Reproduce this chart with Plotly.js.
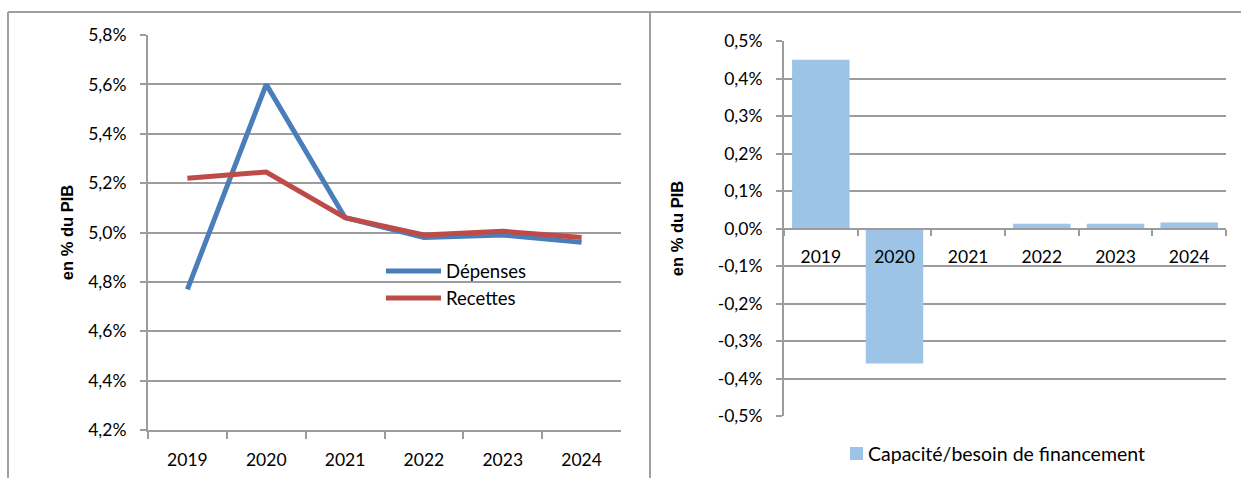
<!DOCTYPE html>
<html><head><meta charset="utf-8">
<script src="https://cdn.plot.ly/plotly-3.0.1.min.js"></script>
<style>html,body{margin:0;padding:0;background:#fff}#c{width:1241px;height:478px}</style>
</head><body><div id="c"></div>
<script>
const years = ['2019','2020','2021','2022','2023','2024'];
const depenses = [4.77, 5.60, 5.06, 4.98, 4.99, 4.96];
const recettes = [5.22, 5.245, 5.06, 4.99, 5.005, 4.98];
const capacite = [0.45, -0.36, 0.0, 0.013, 0.013, 0.016];
const leftTicks = [4.2, 4.4, 4.6, 4.8, 5.0, 5.2, 5.4, 5.6, 5.8];
const rightTicks = [-0.5, -0.4, -0.3, -0.2, -0.1, 0.0, 0.1, 0.2, 0.3, 0.4, 0.5];
const seriesNames = ['Dépenses', 'Recettes'];
const seriesColors = ['#4a7ebb', '#be4b48'];
const barName = 'Capacité/besoin de financement';
const barColor = '#9dc3e6';
const axisTitle = 'en % du PIB';

const W = 1241, H = 478;
const px = v => v / W, py = v => 1 - v / H;
const font = 'Lato, "Open Sans", sans-serif';
const grid = '#9c9c9c';
const pct = v => v.toFixed(1).replace('.', ',') + '%';

const traces = [
  {x: years, y: depenses, type: 'scatter', mode: 'lines', name: seriesNames[0], showlegend: false,
   line: {color: seriesColors[0], width: 5}, xaxis: 'x', yaxis: 'y'},
  {x: years, y: recettes, type: 'scatter', mode: 'lines', name: seriesNames[1], showlegend: false,
   line: {color: seriesColors[1], width: 5}, xaxis: 'x', yaxis: 'y'},
  {x: years, y: capacite, type: 'bar', name: barName, showlegend: false,
   marker: {color: barColor}, xaxis: 'x2', yaxis: 'y2'}
];

const yDom1 = [py(430), py(35)];
const yDom2 = [py(416), py(41)];
const zeroPos = yDom2[0] + (0 - (-0.5)) / 1.0 * (yDom2[1] - yDom2[0]);

const tickFont = {family: font, size: 17.5, color: '#000'};
const axisY = (standoff) => ({
  showgrid: true, gridcolor: grid, gridwidth: 2, showline: true, linecolor: grid, linewidth: 2,
  ticks: 'outside', ticklen: 6, tickcolor: grid, tickwidth: 2, zeroline: false,
  tickfont: tickFont, ticklabelstandoff: 10,
  title: {text: axisTitle, font: {family: 'Liberation Sans, Arial, sans-serif', size: 16.5, color: '#000', weight: 'bold'}, standoff: standoff}
});

const legendY = [271, 298];
const shapes = [
  {type: 'line', xref: 'paper', yref: 'paper', x0: px(8), x1: 1, y0: py(12), y1: py(12), line: {color: '#a0a0a0', width: 2}},
  {type: 'line', xref: 'paper', yref: 'paper', x0: px(8), x1: px(8), y0: py(12), y1: 0, line: {color: '#a0a0a0', width: 2}},
  {type: 'line', xref: 'paper', yref: 'paper', x0: px(650), x1: px(650), y0: py(12), y1: 0, line: {color: '#a0a0a0', width: 2}}
];
const annotations = [];
seriesNames.forEach((n, i) => {
  shapes.push({type: 'line', xref: 'paper', yref: 'paper', x0: px(386), x1: px(441), y0: py(legendY[i]), y1: py(legendY[i]),
    line: {color: seriesColors[i], width: 5}});
  annotations.push({xref: 'paper', yref: 'paper', x: px(444), y: py(legendY[i]), xanchor: 'left', yanchor: 'middle',
    text: n, showarrow: false, font: {family: font, size: 18.5, color: '#000'}});
});
shapes.push({type: 'rect', xref: 'paper', yref: 'paper', x0: px(850), x1: px(863), y0: py(447), y1: py(460),
  fillcolor: barColor, line: {width: 0}});
annotations.push({xref: 'paper', yref: 'paper', x: px(866), y: py(453), xanchor: 'left', yanchor: 'middle',
  text: barName, showarrow: false, font: {family: font, size: 19.5, color: '#000'}});

const layout = {
  width: W, height: H, margin: {l: 0, r: 0, t: 0, b: 0},
  paper_bgcolor: '#fff', plot_bgcolor: 'rgba(0,0,0,0)',
  showlegend: false, bargap: 0.22,
  xaxis: {domain: [px(148), px(621)], anchor: 'y', type: 'category', range: [-0.5, 5.5],
    showline: true, linecolor: grid, linewidth: 2, ticks: 'outside', ticklen: 7, tickcolor: grid, tickwidth: 2,
    tickson: 'boundaries', showgrid: false, tickfont: tickFont, ticklabelstandoff: 13},
  yaxis: Object.assign(axisY(10), {domain: yDom1, anchor: 'x', range: [4.2, 5.8], tickvals: leftTicks, ticktext: leftTicks.map(pct)}),
  xaxis2: {domain: [px(784), px(1226)], anchor: 'free', position: zeroPos, type: 'category', range: [-0.5, 5.5],
    showline: true, linecolor: grid, linewidth: 2, ticks: 'outside', ticklen: 6, tickcolor: grid, tickwidth: 2,
    tickson: 'boundaries', showgrid: false, tickfont: tickFont, ticklabelstandoff: 12},
  yaxis2: Object.assign(axisY(30), {domain: yDom2, anchor: 'x2', range: [-0.5, 0.5], tickvals: rightTicks, ticktext: rightTicks.map(pct)}),
  shapes: shapes,
  annotations: annotations
};

Plotly.newPlot('c', traces, layout, {displayModeBar: false, staticPlot: true});
</script></body></html>
